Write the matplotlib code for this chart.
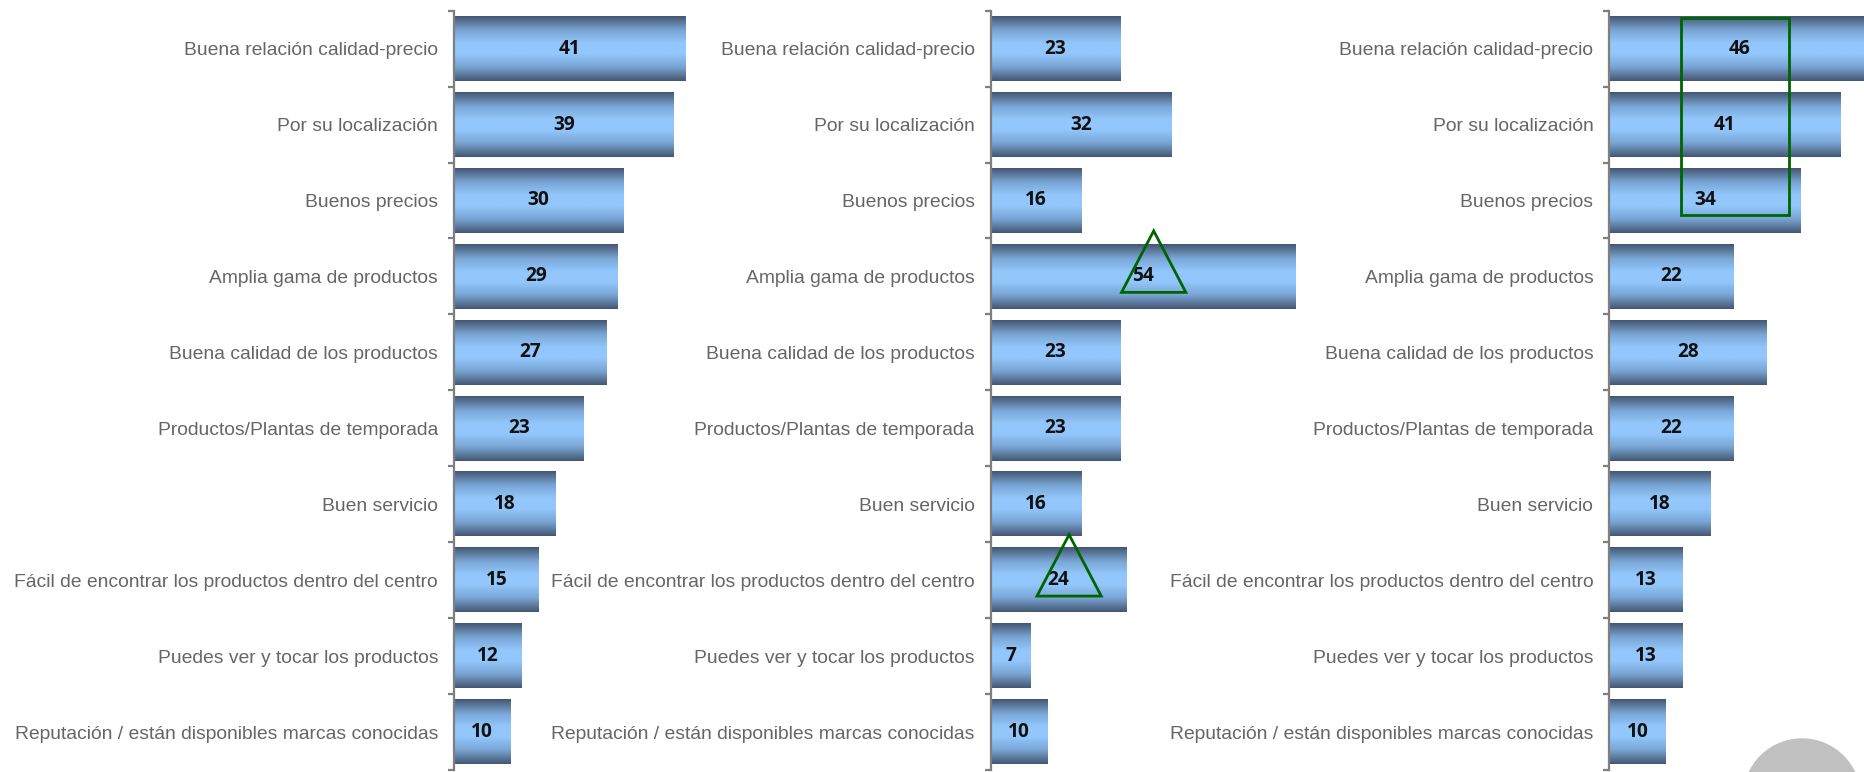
import numpy as np
import matplotlib.pyplot as plt
from matplotlib.colors import LinearSegmentedColormap
from matplotlib.patches import Polygon, Rectangle, Circle

categorias = [
    'Buena relación calidad-precio',
    'Por su localización',
    'Buenos precios',
    'Amplia gama de productos',
    'Buena calidad de los productos',
    'Productos/Plantas de temporada',
    'Buen servicio',
    'Fácil de encontrar los productos dentro del centro',
    'Puedes ver y tocar los productos',
    'Reputación / están disponibles marcas conocidas',
]
valores_1 = [41, 39, 30, 29, 27, 23, 18, 15, 12, 10]
valores_2 = [23, 32, 16, 54, 23, 23, 16, 24, 7, 10]
valores_3 = [46, 41, 34, 22, 28, 22, 18, 13, 13, 10]

# filas resaltadas con triángulo (panel 2) y recuadro (panel 3)
destacados_2 = [3, 7]
recuadro_3 = (0, 2)

plt.rcParams['font.family'] = ['Liberation Sans', 'DejaVu Sans']

fig = plt.figure(figsize=(18.65, 7.72), dpi=100)

# degradado vertical: oscuro en los bordes, azul claro en el centro
cmap = LinearSegmentedColormap.from_list(
    'barra', [(0.0, '#445672'), (0.22, '#7aa6d6'), (0.42, '#93c7fc'),
              (0.58, '#93c7fc'), (0.78, '#7aa6d6'), (1.0, '#445672')])
grad = np.linspace(0, 1, 256).reshape(-1, 1)

lefts = [454 / 1865, 990.7 / 1865, 1609.3 / 1865]
ancho = 60 * 5.64 / 1865
alto_barra = 0.85
gris = '#7f7f7f'


def panel(left, valores):
    ax = fig.add_axes([left, 0.0026, ancho, 0.9836])
    y = np.arange(len(valores))
    bars = ax.barh(y, valores, height=alto_barra, color='none', zorder=1)
    for b, v in zip(bars, valores):
        ax.imshow(grad, cmap=cmap, aspect='auto', zorder=2,
                  extent=[0, v, b.get_y() + b.get_height(), b.get_y()])
        ax.text(v / 2, b.get_y() + b.get_height() / 2, str(v),
                ha='center', va='center', fontsize=13.8, fontweight='bold',
                family=['Open Sans', 'DejaVu Sans'], color='#111111', zorder=4)
    ax.set_xlim(0, 60)
    ax.set_ylim(len(valores) - 0.5, -0.5)
    ax.set_yticks(y)
    ax.set_yticklabels(categorias, fontsize=13.9, color='#666666')
    for lbl in ax.get_yticklabels():
        lbl.set_va('center_baseline')
    ax.set_yticks(np.arange(len(valores) + 1) - 0.5, minor=True)
    ax.tick_params(axis='y', which='major', length=0, pad=11.5)
    ax.tick_params(axis='y', which='minor', length=4.5, width=1.6, color=gris,
                   direction='out')
    ax.set_xticks([])
    for s in ['top', 'right', 'bottom']:
        ax.spines[s].set_visible(False)
    ax.spines['left'].set_color(gris)
    ax.spines['left'].set_linewidth(1.6)
    ax.spines['left'].set_zorder(5)
    ax.patch.set_alpha(0)
    return ax


ax1 = panel(lefts[0], valores_1)
ax2 = panel(lefts[1], valores_2)
ax3 = panel(lefts[2], valores_3)

# triángulos verdes sobre las barras destacadas
for i in destacados_2:
    cx = valores_2[i] / 2 + 1.9
    tri = Polygon([[cx - 5.7, i + 0.21], [cx + 5.7, i + 0.21], [cx, i - 0.6]],
                  closed=True, fill=False, edgecolor='#006400', linewidth=2,
                  zorder=6, clip_on=False)
    ax2.add_patch(tri)

# recuadro verde en el panel 3
r0, r1 = recuadro_3
ax3.add_patch(Rectangle((12.8, r0 - 0.40), 19.0, (r1 - r0) + 0.59, fill=False,
                        edgecolor='#006400', linewidth=2, zorder=6))

# círculo gris en la esquina inferior derecha
fig.add_artist(Circle((18.02, -0.253), 0.59, transform=fig.dpi_scale_trans,
                      facecolor='#c0c0c0', edgecolor='none'))

fig.savefig('out.png', dpi=100)
